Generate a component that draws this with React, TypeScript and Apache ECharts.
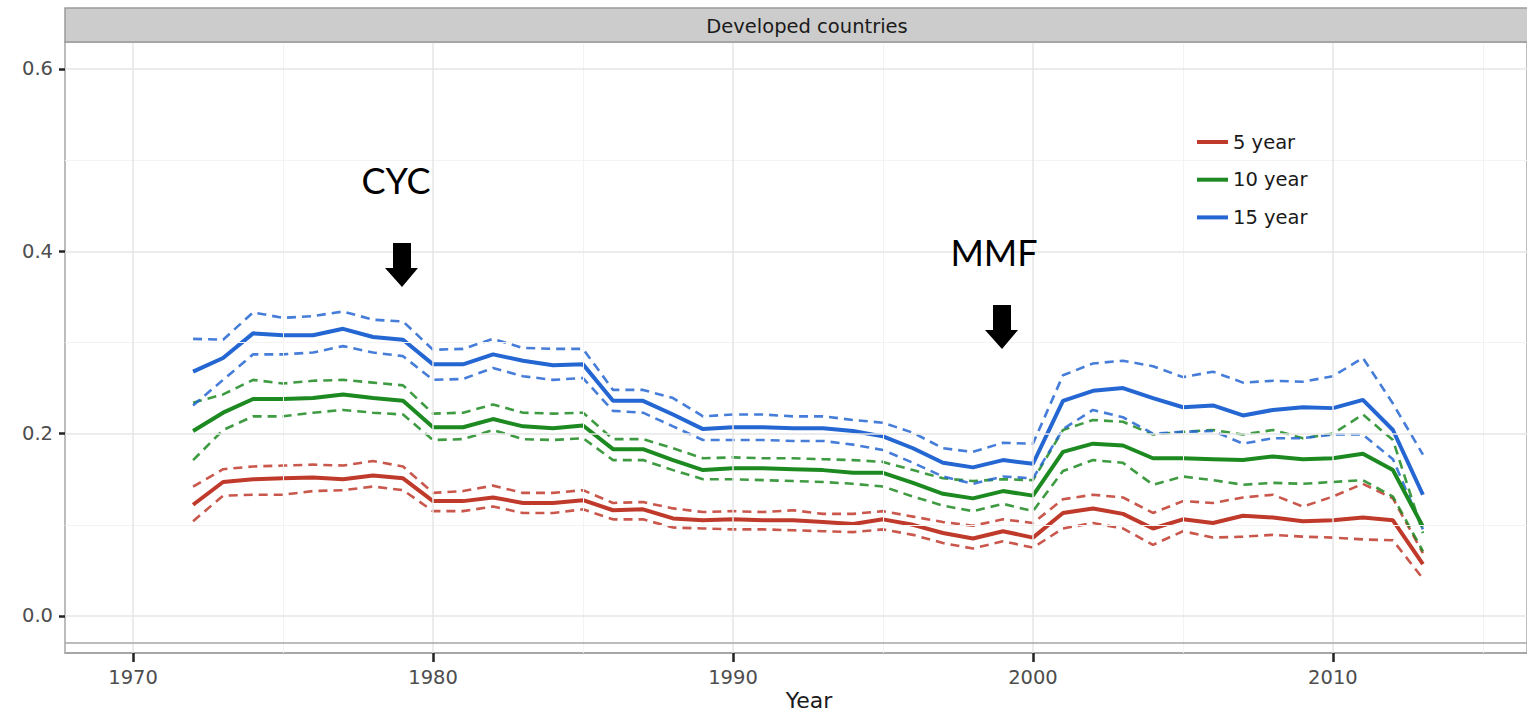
import React, { useEffect, useRef } from "react";
import * as echarts from "echarts";

const years = [
  1972, 1973, 1974, 1975, 1976, 1977, 1978, 1979, 1980, 1981, 1982, 1983, 1984, 1985,
  1986, 1987, 1988, 1989, 1990, 1991, 1992, 1993, 1994, 1995, 1996, 1997, 1998, 1999,
  2000, 2001, 2002, 2003, 2004, 2005, 2006, 2007, 2008, 2009, 2010, 2011, 2012, 2013,
];

// 15 year
const y15 = [
  0.268, 0.283, 0.31, 0.308, 0.308, 0.315, 0.306, 0.303, 0.276, 0.276, 0.287, 0.28, 0.275, 0.276,
  0.236, 0.236, 0.221, 0.205, 0.207, 0.207, 0.206, 0.206, 0.203, 0.197, 0.184, 0.168, 0.163, 0.171,
  0.167, 0.236, 0.247, 0.25, 0.239, 0.229, 0.231, 0.22, 0.226, 0.229, 0.228, 0.237, 0.204, 0.133,
];
const y15Hi = [
  0.304, 0.303, 0.333, 0.327, 0.329, 0.334, 0.325, 0.323, 0.292, 0.293, 0.304, 0.294, 0.293, 0.293,
  0.248, 0.248, 0.239, 0.219, 0.221, 0.221, 0.219, 0.219, 0.215, 0.212, 0.201, 0.184, 0.18, 0.19,
  0.189, 0.264, 0.277, 0.28, 0.274, 0.262, 0.268, 0.256, 0.258, 0.257, 0.263, 0.283, 0.233, 0.177,
];
const y15Lo = [
  0.231, 0.259, 0.287, 0.287, 0.289, 0.296, 0.289, 0.285, 0.259, 0.26, 0.272, 0.263, 0.259, 0.261,
  0.225, 0.223, 0.208, 0.193, 0.193, 0.193, 0.192, 0.192, 0.188, 0.182, 0.168, 0.153, 0.145, 0.153,
  0.151, 0.205, 0.226, 0.218, 0.2, 0.202, 0.203, 0.189, 0.195, 0.195, 0.199, 0.199, 0.172, 0.095,
];

// 10 year
const y10 = [
  0.203, 0.223, 0.238, 0.238, 0.239, 0.243, 0.239, 0.236, 0.207, 0.207, 0.216, 0.208, 0.206, 0.209,
  0.183, 0.183, 0.171, 0.16, 0.162, 0.162, 0.161, 0.16, 0.157, 0.157, 0.146, 0.134, 0.129, 0.137,
  0.132, 0.18, 0.189, 0.187, 0.173, 0.173, 0.172, 0.171, 0.175, 0.172, 0.173, 0.178, 0.16, 0.098,
];
const y10Hi = [
  0.234, 0.243, 0.259, 0.255, 0.258, 0.259, 0.256, 0.253, 0.222, 0.223, 0.232, 0.223, 0.222, 0.223,
  0.194, 0.194, 0.184, 0.173, 0.174, 0.173, 0.173, 0.172, 0.171, 0.169, 0.16, 0.151, 0.148, 0.15,
  0.149, 0.204, 0.215, 0.213, 0.199, 0.202, 0.204, 0.199, 0.204, 0.195, 0.2, 0.221, 0.193, 0.091,
];
const y10Lo = [
  0.171, 0.204, 0.219, 0.219, 0.223, 0.226, 0.223, 0.221, 0.193, 0.194, 0.204, 0.194, 0.193, 0.195,
  0.171, 0.171, 0.16, 0.15, 0.15, 0.149, 0.148, 0.147, 0.145, 0.142, 0.131, 0.121, 0.115, 0.123,
  0.115, 0.159, 0.171, 0.168, 0.144, 0.153, 0.149, 0.144, 0.146, 0.145, 0.147, 0.149, 0.131, 0.071,
];

// 5 year
const y5 = [
  0.122, 0.147, 0.15, 0.151, 0.152, 0.15, 0.154, 0.151, 0.126, 0.126, 0.13, 0.124, 0.124, 0.127,
  0.116, 0.117, 0.107, 0.105, 0.106, 0.105, 0.105, 0.103, 0.101, 0.106, 0.1, 0.091, 0.085, 0.093,
  0.086, 0.113, 0.118, 0.112, 0.096, 0.106, 0.102, 0.11, 0.108, 0.104, 0.105, 0.108, 0.105, 0.057,
];
const y5Hi = [
  0.142, 0.161, 0.164, 0.165, 0.166, 0.165, 0.17, 0.164, 0.135, 0.137, 0.143, 0.135, 0.135, 0.138,
  0.124, 0.125, 0.118, 0.114, 0.115, 0.114, 0.116, 0.112, 0.112, 0.115, 0.109, 0.103, 0.099, 0.106,
  0.102, 0.128, 0.133, 0.13, 0.113, 0.126, 0.124, 0.13, 0.133, 0.12, 0.131, 0.145, 0.129, 0.069,
];
const y5Lo = [
  0.104, 0.132, 0.133, 0.133, 0.137, 0.138, 0.142, 0.138, 0.115, 0.115, 0.12, 0.113, 0.113, 0.117,
  0.106, 0.106, 0.097, 0.096, 0.095, 0.095, 0.094, 0.093, 0.092, 0.095, 0.089, 0.08, 0.074, 0.082,
  0.075, 0.096, 0.102, 0.096, 0.078, 0.093, 0.086, 0.087, 0.089, 0.087, 0.086, 0.084, 0.083, 0.041,
];

const xTicks = [1970, 1980, 1990, 2000, 2010];
const xMinor = [1975, 1985, 1995, 2005, 2015];
const yTicks = [0, 0.2, 0.4, 0.6];
const yMinor = [0.1, 0.3, 0.5];
const groupNames = ["5 year", "10 year", "15 year"];
const stripTitle = "Developed countries";
const xTitle = "Year";
const notes = [
  { text: "CYC", x: 396, y: 180, ax: 402, ay: 243 },
  { text: "MMF", x: 994, y: 252, ax: 1002, ay: 305 },
];

const colors = { "5 year": "#c03a2b", "10 year": "#1d8a21", "15 year": "#2466d2" };
const FONT = "DejaVu Sans";

const pair = (vals: number[]) => vals.map((v, i) => [years[i], v]);

export default function App() {
  const ref = useRef<HTMLDivElement>(null);
  useEffect(() => {
    if (!ref.current) return;
    const chart = echarts.init(ref.current, undefined, { renderer: "svg" });

    const groups = [
      { name: "5 year", mid: y5, lo: y5Lo, hi: y5Hi },
      { name: "10 year", mid: y10, lo: y10Lo, hi: y10Hi },
      { name: "15 year", mid: y15, lo: y15Lo, hi: y15Hi },
    ];

    const series: any[] = [];
    series.push({
      type: "line",
      name: "grid",
      data: [],
      silent: true,
      z: 1,
      markLine: {
        silent: true,
        symbol: "none",
        label: { show: false },
        animation: false,
        data: [
          ...xMinor.map((v) => ({ xAxis: v, lineStyle: { color: "#f3f3f3", width: 1, type: "solid" } })),
          ...yMinor.map((v) => ({ yAxis: v, lineStyle: { color: "#f3f3f3", width: 1, type: "solid" } })),
          ...xTicks.map((v) => ({ xAxis: v, lineStyle: { color: "#e6e6e6", width: 1.5, type: "solid" } })),
          ...yTicks.map((v) => ({ yAxis: v, lineStyle: { color: "#e6e6e6", width: 1.5, type: "solid" } })),
        ],
      },
    });
    groups.forEach((g) => {
      const c = (colors as any)[g.name];
      [g.hi, g.lo].forEach((arr, k) => {
        series.push({
          type: "line",
          name: g.name + (k === 0 ? " upper" : " lower"),
          data: pair(arr),
          symbol: "none",
          z: 3,
          lineStyle: { color: c, width: 2.6, type: [9, 6], opacity: 0.85 },
        });
      });
    });
    groups.forEach((g) => {
      const c = (colors as any)[g.name];
      series.push({
        type: "line",
        name: g.name,
        data: pair(g.mid),
        symbol: "none",
        z: 4,
        color: c,
        lineStyle: { color: c, width: 4 },
      });
    });

    const arrow = (ax: number, ay: number) => ({
      type: "polygon",
      z: 100,
      shape: {
        points: [
          [ax - 9, ay],
          [ax + 9, ay],
          [ax + 9, ay + 25],
          [ax + 16, ay + 25],
          [ax, ay + 44],
          [ax - 17, ay + 25],
          [ax - 9, ay + 25],
        ],
      },
      style: { fill: "#000" },
    });

    chart.setOption({
      animation: false,
      backgroundColor: "#ffffff",
      grid: {
        left: 65,
        top: 42,
        right: 0,
        bottom: 60,
        show: true,
        borderColor: "#a6a6a6",
        borderWidth: 1.5,
        backgroundColor: "#ffffff",
      },
      xAxis: {
        type: "value",
        min: 1967.73,
        max: 2016.47,
        axisLine: { show: true, onZero: false, lineStyle: { color: "#a0a0a0", width: 1.5 } },
        axisTick: { show: true, customValues: xTicks, length: 9, lineStyle: { color: "#222222", width: 2.5 } },
        minorTick: { show: false },
        axisLabel: {
          customValues: xTicks,
          color: "#4d4d4d",
          fontSize: 19.5,
          fontFamily: FONT,
          margin: 14,
          formatter: (v: number) => String(Math.round(v)),
        },
        splitLine: { show: false },
      },
      yAxis: {
        type: "value",
        min: -0.0406,
        max: 0.6296,
        axisLine: { show: false, onZero: false },
        axisTick: { show: true, customValues: yTicks, length: 6, lineStyle: { color: "#222222", width: 2.5 } },
        axisLabel: {
          customValues: yTicks,
          color: "#4d4d4d",
          fontSize: 19.5,
          fontFamily: FONT,
          margin: 12,
          formatter: (v: number) => v.toFixed(1),
        },
        splitLine: { show: false },
      },
      legend: {
        data: groupNames,
        orient: "vertical",
        left: 1185,
        top: 126,
        padding: [6, 12, 6, 12],
        backgroundColor: "#ffffff",
        icon: "rect",
        itemWidth: 31,
        itemHeight: 4,
        itemGap: 17.7,
        itemTextGap: 9,
        textStyle: { fontSize: 19.5, fontFamily: FONT, color: "#1a1a1a", lineHeight: 20 },
        selectedMode: false,
      },
      series,
      graphic: [
        {
          type: "rect",
          z: 50,
          shape: { x: 65, y: 8, width: 1470, height: 34 },
          style: { fill: "#cccccc", stroke: "#9a9a9a", lineWidth: 1.5 },
        },
        {
          type: "text",
          z: 51,
          x: 807,
          y: 26,
          style: {
            text: stripTitle,
            fontSize: 19.5,
            fontFamily: FONT,
            fill: "#1a1a1a",
            align: "center",
            verticalAlign: "middle",
          },
        },
        {
          type: "line",
          z: 50,
          shape: { x1: 65, y1: 643, x2: 1527, y2: 643 },
          style: { stroke: "#a6a6a6", lineWidth: 1.5 },
        },
        {
          type: "text",
          z: 51,
          x: 809,
          y: 700,
          style: {
            text: xTitle,
            fontSize: 22,
            fontFamily: FONT,
            fill: "#1a1a1a",
            align: "center",
            verticalAlign: "middle",
          },
        },
        ...notes.map((n) => ({
          type: "text",
          z: 100,
          x: n.x,
          y: n.y,
          style: {
            text: n.text,
            fontSize: 36,
            fontFamily: "Lato",
            fill: "#000000",
            align: "center",
            verticalAlign: "middle",
          },
        })),
        ...notes.map((n) => arrow(n.ax, n.ay)),
      ],
    });
    return () => chart.dispose();
  }, []);
  return (
    <div
      ref={ref}
      style={{ position: "absolute", left: 0, top: 0, width: 1527, height: 713 }}
    />
  );
}
